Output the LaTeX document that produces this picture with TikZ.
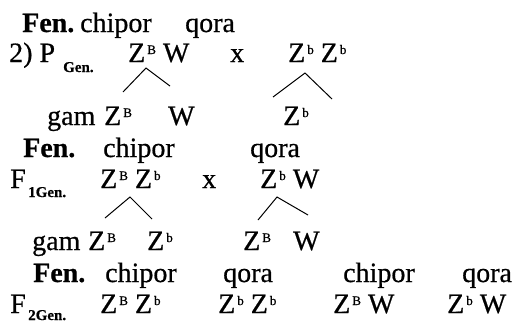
\documentclass[tikz,border=0pt]{standalone}
\usepackage{fontspec}
\setmainfont{Liberation Serif}[FakeBold=0.6]
\usepackage{tikz}
\usetikzlibrary{calc}
\newcommand{\al}[1]{\raisebox{8pt}{\fontsize{13}{13}\selectfont #1}}
\newcommand{\gz}[1]{Z\hspace{2pt}\al{#1}}
\tikzset{
  wd/.style={anchor=base west, inner sep=0pt},
  fen/.style={wd, font=\fontsize{28}{30}\selectfont\bfseries},
  sub/.style={wd, font=\fontsize{15}{15}\selectfont\bfseries},
  branch/.style={black, line width=1pt}
}

\begin{document}
\begin{tikzpicture} [x=1pt, y=-1pt, font=\fontsize{28}{30}\selectfont]
    \useasboundingbox (0,0) rectangle (513,322);
    % P
    \node[fen] (fen1) at (22,32) {Fen.};
    \node[wd] (chip1) at (80,32) {chipor};
    \node[wd] (qora1) at (185,32) {qora};
    \node[wd] (p) at (9,62) {2) P};
    \node[sub] (pgen) at (63,72) {Gen.};
    \node[wd] (pa) at (128,62) {\gz{B} W};
    \node[wd] (px) at (230,62) {x};
    \node[wd] (pb) at (288,62) {\gz{b} \gz{b}};
    \node[wd] (gam1) at (47,125) {gam};
    \node[wd] (g1a) at (104,125) {\gz{B}};
    \node[wd] (g1b) at (168,125) {W};
    \node[wd] (g1c) at (283,125) {\gz{b}};
    % F1
    \node[fen] (fen2) at (23,157) {Fen.};
    \node[wd] (chip2) at (103,157) {chipor};
    \node[wd] (qora2) at (250,157) {qora};
    \node[wd] (fa) at (10,188) {F};
    \node[sub] (fagen) at (28,197) {1Gen.};
    \node[wd] (fa1) at (100,188) {\gz{B} \gz{b}};
    \node[wd] (fax) at (202,188) {x};
    \node[wd] (fa2) at (260,188) {\gz{b} W};
    \node[wd] (gam2) at (32,250) {gam};
    \node[wd] (g2a) at (88,250) {\gz{B}};
    \node[wd] (g2b) at (147,250) {\gz{b}};
    \node[wd] (g2c) at (243,250) {\gz{B}};
    \node[wd] (g2d) at (293,250) {W};
    % F2
    \node[fen] (fen3) at (33,282) {Fen.};
    \node[wd] (chip3) at (105,282) {chipor};
    \node[wd] (qora3) at (223,282) {qora};
    \node[wd] (chip4) at (343,282) {chipor};
    \node[wd] (qora4) at (462,282) {qora};
    \node[wd] (fb) at (10,313) {F};
    \node[sub] (fbgen) at (28,320) {2Gen.};
    \node[wd] (fb1) at (100,313) {\gz{B} \gz{b}};
    \node[wd] (fb2) at (218,313) {\gz{b} \gz{b}};
    \node[wd] (fb3) at (333,313) {\gz{B} W};
    \node[wd] (fb4) at (447,313) {\gz{b} W};
    % gametes
    \coordinate (a1) at (146,68);  \coordinate (l1) at (123,92);  \coordinate (r1) at (170,86);
    \coordinate (a2) at (305,73);  \coordinate (l2) at (273,97);  \coordinate (r2) at (332,99);
    \coordinate (a3) at (130,197); \coordinate (l3) at (105,218); \coordinate (r3) at (152,219);
    \coordinate (a4) at (277,197); \coordinate (l4) at (258,220); \coordinate (r4) at (308,215);
    \foreach \i in {1,...,4} {
      \draw[branch] (l\i)--(a\i)--(r\i);
    }
\end{tikzpicture}
\end{document}
